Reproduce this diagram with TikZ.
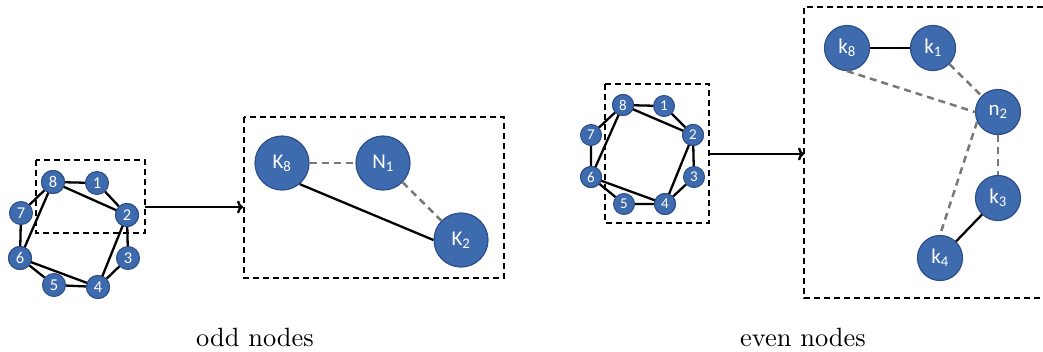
\documentclass[tikz,border=0pt]{standalone}
\usepackage{fontspec}
\newfontfamily\carlito{Carlito}
\usetikzlibrary{arrows.meta}
\definecolor{nblue}{RGB}{62,106,174}
\definecolor{nborder}{RGB}{44,78,138}
\definecolor{dgray}{RGB}{120,120,120}
\tikzset{
  sn/.style={circle, fill=nblue, draw=nborder, line width=1pt, minimum size=23pt, inner sep=0pt, text=white, font=\carlito\fontsize{16.5}{16.5}\selectfont},
  snb/.style={sn, minimum size=21pt, font=\carlito\fontsize{15}{15}\selectfont},
  bn/.style={circle, fill=nblue, draw=nborder, line width=1.2pt, minimum size=54pt, inner sep=0pt, text=white, font=\carlito\fontsize{21}{21}\selectfont},
  bnb/.style={bn, minimum size=45pt},
  edge/.style={black, line width=2.3pt},
  gedge/.style={dgray, line width=2.5pt, dash pattern=on 7pt off 5pt},
  dbox/.style={black, line width=1.8pt, dash pattern=on 6pt off 4pt},
  arr/.style={black, line width=2.4pt, -{To[length=6pt,width=13pt]}},
  captxt/.style={scale=2.64, inner sep=0pt}
}
\begin{document}
\begin{tikzpicture}[x=1pt,y=-1pt]
\useasboundingbox (0,0) rectangle (1043,351);
% ---- left small graph
\node[sn] (a8) at (53,182) {8};
\node[sn] (a1) at (97,183) {1};
\node[sn] (a2) at (127,215) {2};
\node[sn] (a3) at (128,258) {3};
\node[sn] (a4) at (98,287) {4};
\node[sn] (a5) at (54,285) {5};
\node[sn] (a6) at (20,258) {6};
\node[sn] (a7) at (21,213) {7};
\draw[edge] (a8)--(a1) (a1)--(a2) (a2)--(a3) (a3)--(a4) (a4)--(a5) (a5)--(a6) (a6)--(a7) (a7)--(a8);
\draw[edge] (a8.center)--(a2.center)--(a4.center)--(a6.center)--cycle;
\node[sn] at (a8) {8};
\node[sn] at (a2) {2};
\node[sn] at (a4) {4};
\node[sn] at (a6) {6};
\coordinate (b1tl) at (36,160);
\coordinate (b1br) at (145,233);
\draw[dbox] (b1tl) rectangle (b1br);
% ---- left big graph
\coordinate (B1tl) at (244,117);
\coordinate (B1br) at (504,278);
\draw[dbox] (B1tl) rectangle (B1br);
\coordinate (arr1s) at (145,207);
\coordinate (arr1e) at (243,207);
\draw[arr] (arr1s) -- (arr1e);
\node[bn] (K8) at (282,163) {K\textsubscript{8}};
\node[bn] (N1) at (383,163) {N\textsubscript{1}};
\node[bn] (K2) at (461,240) {K\textsubscript{2}};
\draw[gedge] (K8) -- (N1);
\draw[gedge] (N1) -- (K2);
\draw[edge] (K8.-50) -- (K2.west);
% ---- right small graph
\node[snb] (c8) at (623,105) {8};
\node[snb] (c1) at (664,106) {1};
\node[snb] (c2) at (693,135) {2};
\node[snb] (c3) at (694,177) {3};
\node[snb] (c4) at (665,204) {4};
\node[snb] (c5) at (624,204) {5};
\node[snb] (c6) at (591,177) {6};
\node[snb] (c7) at (591,135) {7};
\draw[edge] (c8)--(c1) (c1)--(c2) (c2)--(c3) (c3)--(c4) (c4)--(c5) (c5)--(c6) (c6)--(c7) (c7)--(c8);
\draw[edge] (c8.center)--(c2.center)--(c4.center)--(c6.center)--cycle;
\node[snb] at (c8) {8};
\node[snb] at (c2) {2};
\node[snb] at (c4) {4};
\node[snb] at (c6) {6};
\coordinate (b2tl) at (605,84);
\coordinate (b2br) at (709,223);
\draw[dbox] (b2tl) rectangle (b2br);
% ---- right big graph
\coordinate (B2a) at (1043,7);
\coordinate (B2b) at (804,7);
\coordinate (B2c) at (804,298);
\coordinate (B2d) at (1043,298);
\draw[dbox] (B2a) -- (B2b) -- (B2c) -- (B2d);
\coordinate (arr2s) at (709,154);
\coordinate (arr2e) at (804,154);
\draw[arr] (arr2s) -- (arr2e);
\node[bnb] (k8) at (847,48) {k\textsubscript{8}};
\node[bnb] (k1) at (933,48) {k\textsubscript{1}};
\node[bnb] (n2) at (998,112) {n\textsubscript{2}};
\node[bnb] (k3) at (998,198) {k\textsubscript{3}};
\node[bnb] (k4) at (940,258) {k\textsubscript{4}};
\draw[edge] (k8) -- (k1);
\draw[edge] (k3) -- (k4);
\draw[gedge] (k1) -- (n2);
\draw[gedge] (k8.south) -- (n2.west);
\draw[gedge] (n2.205) -- (k4.north);
\draw[gedge] (n2.south) -- (k3.north);
% ---- captions
\node[captxt] (cap1) at (255,337) {odd nodes};
\node[captxt] (cap2) at (803,337) {even nodes};
\end{tikzpicture}
\end{document}
